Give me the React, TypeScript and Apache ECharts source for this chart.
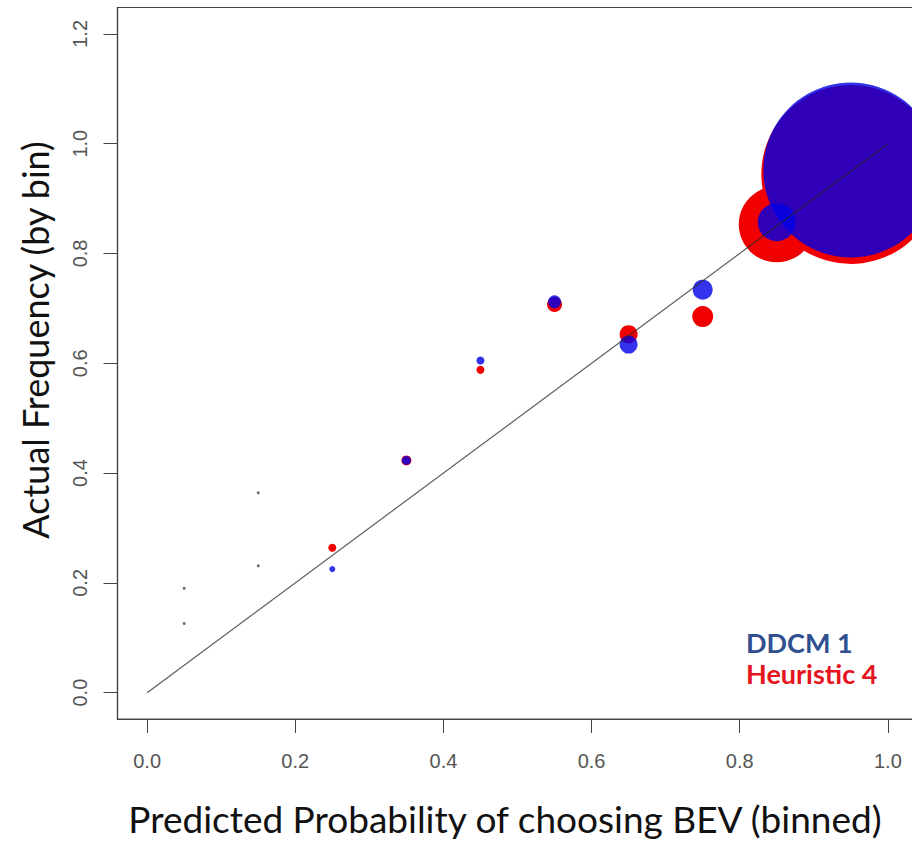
import React, { useEffect, useRef } from "react";
import * as echarts from "echarts";

// Bins (predicted probability, bin centre)
const ddcmX = [0.05, 0.15, 0.25, 0.35, 0.45, 0.55, 0.65, 0.75, 0.85, 0.95];
const ddcmY = [0.126, 0.231, 0.225, 0.423, 0.605, 0.712, 0.634, 0.734, 0.857, 0.952];
const ddcmSize = [3, 3, 6, 9, 8, 13, 18, 20, 38, 175];

const heurX = [0.05, 0.15, 0.25, 0.35, 0.45, 0.55, 0.65, 0.75, 0.85, 0.95];
const heurY = [0.19, 0.364, 0.264, 0.423, 0.588, 0.707, 0.653, 0.685, 0.853, 0.944];
const heurSize = [3, 3, 8, 10, 8, 15, 18, 21, 76, 179];

const xTicks = [0, 0.2, 0.4, 0.6, 0.8, 1.0];
const yTicks = [0, 0.2, 0.4, 0.6, 0.8, 1.0, 1.2];
const diagonal = [
  [0, 0],
  [1, 1],
];

const seriesNames = ["DDCM 1", "Heuristic 4"];
const xTitle = "Predicted Probability of choosing BEV (binned)";
const yTitle = "Actual Frequency (by bin)";

const BLUE = "rgba(0,0,230,0.8)";
const RED = "rgb(240,0,0)";

export default function App() {
  const ref = useRef<HTMLDivElement>(null);
  useEffect(() => {
    if (!ref.current) return;
    const chart = echarts.init(ref.current, null, { renderer: "svg" });
    const mk = (xs: number[], ys: number[], ss: number[]) =>
      xs.map((x, i) => [x, ys[i], ss[i]]);
    const tinyColor = (base: string) => (p: any) =>
      p.data[2] < 4 ? "#6a6a6a" : base;
    chart.setOption({
      animation: false,
      backgroundColor: "#fff",
      grid: {
        left: 117.5,
        top: 7.5,
        width: 800,
        height: 711.5,
        show: true,
        borderColor: "#444",
        borderWidth: 1.2,
        containLabel: false,
      },
      xAxis: {
        type: "value",
        min: -0.04,
        max: 1.04,
        splitLine: { show: false },
        axisLine: { show: true, onZero: false, lineStyle: { color: "#444", width: 1.2 } },
        axisTick: {
          show: true,
          customValues: xTicks,
          length: 14,
          inside: false,
          lineStyle: { color: "#444", width: 1 },
        },
        axisLabel: {
          customValues: xTicks,
          formatter: (v: number) => v.toFixed(1),
          margin: 32,
          color: "#555",
          fontFamily: "Liberation Sans",
          fontSize: 20,
        },
      },
      yAxis: {
        type: "value",
        min: -0.048,
        max: 1.248,
        splitLine: { show: false },
        axisLine: { show: true, onZero: false, lineStyle: { color: "#444", width: 1.2 } },
        axisTick: {
          show: true,
          customValues: yTicks,
          length: 14,
          lineStyle: { color: "#444", width: 1 },
        },
        axisLabel: {
          customValues: yTicks,
          formatter: (v: number) => v.toFixed(1),
          rotate: 90,
          margin: 28,
          color: "#555",
          fontFamily: "Liberation Sans",
          fontSize: 20,
        },
      },
      series: [
        {
          name: seriesNames[1],
          type: "scatter",
          data: mk(heurX, heurY, heurSize),
          symbolSize: (v: number[]) => v[2],
          itemStyle: { color: tinyColor(RED), opacity: 1 },
          z: 2,
        },
        {
          name: seriesNames[0],
          type: "scatter",
          data: mk(ddcmX, ddcmY, ddcmSize),
          symbolSize: (v: number[]) => v[2],
          itemStyle: { color: tinyColor(BLUE), opacity: 1 },
          z: 3,
        },
        {
          type: "line",
          data: diagonal,
          symbol: "none",
          lineStyle: { color: "rgba(40,40,40,0.75)", width: 1.2 },
          z: 5,
        },
      ],
      graphic: [
        {
          type: "text",
          x: 505,
          y: 818,
          style: {
            text: xTitle,
            fontFamily: "Lato",
            fontSize: 37,
            fill: "#111",
            align: "center",
            verticalAlign: "middle",
          },
        },
        {
          type: "text",
          x: 35,
          y: 340,
          rotation: Math.PI / 2,
          style: {
            text: yTitle,
            fontFamily: "Lato",
            fontSize: 36,
            fill: "#111",
            align: "center",
            verticalAlign: "middle",
          },
        },
        {
          type: "text",
          x: 746,
          y: 642,
          style: {
            text: seriesNames[0],
            fontFamily: "Lato",
            fontWeight: "bold",
            fontSize: 27,
            fill: "#2f4f8f",
            align: "left",
            verticalAlign: "middle",
          },
        },
        {
          type: "text",
          x: 746,
          y: 673,
          style: {
            text: seriesNames[1],
            fontFamily: "Lato",
            fontWeight: "bold",
            fontSize: 27,
            fill: "#e6141e",
            align: "left",
            verticalAlign: "middle",
          },
        },
      ],
    });
    return () => chart.dispose();
  }, []);
  return (
    <div
      style={{
        position: "absolute",
        left: 0,
        top: 0,
        width: 912,
        height: 843,
        overflow: "hidden",
        background: "#fff",
      }}
    >
      <div ref={ref} style={{ width: 924, height: 843 }} />
    </div>
  );
}
